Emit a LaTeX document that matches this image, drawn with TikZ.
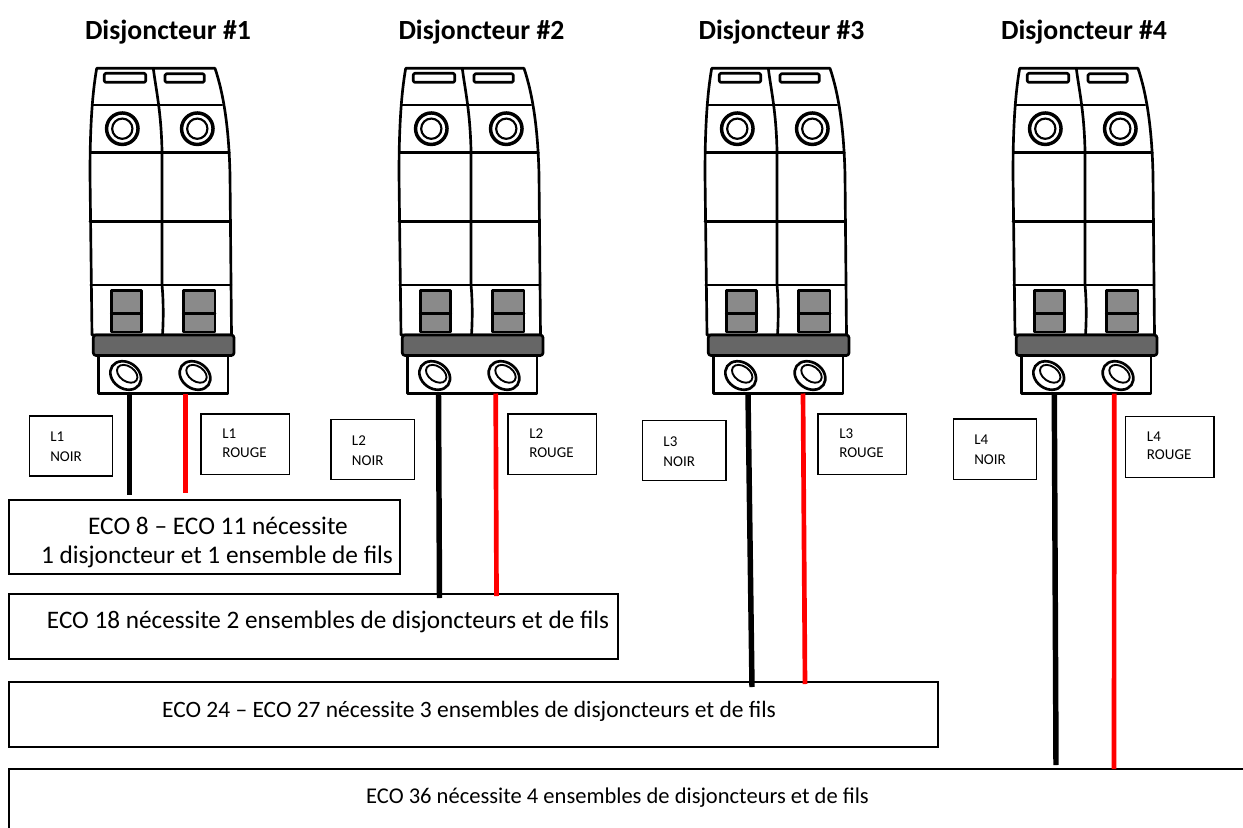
\documentclass[tikz,border=0pt]{standalone}
\usepackage{fontspec}
\setmainfont{Carlito}
\usetikzlibrary{fit}
\definecolor{swgray}{HTML}{8A8A8A}
\definecolor{bandgray}{HTML}{666666}
\newcommand\drawbreaker[1]{%
\begin{scope}[shift={(#1,0)}]
  % body
  \draw[bl, fill=white] (96.7,68.3) -- (215,68.3) .. controls (224,95) and (229,130) .. (230,175) -- (231.5,335) -- (92,335) -- (90,175) .. controls (90,130) and (92,95) .. (96.7,68.3);
  % middle divider
  \draw[bl] (153.3,68.3) .. controls (156,90) and (161,110) .. (162,150) -- (162,285) .. controls (163.5,300) and (163.5,320) .. (162.5,335);
  % horizontal lines
  \draw[bl] (92.6,105) -- (222,105);
  \draw[bl] (90.5,152.5) -- (229.4,152.5);
  \draw[bl] (90,221.7) -- (230.5,221.7);
  \draw[bl] (90.7,285) -- (231,285);
  % slots
  \draw[bl, rounded corners=1pt] (104.3,73.3) rectangle (145.7,82.3);
  \draw[bl, rounded corners=1pt] (165,73.8) rectangle (204.3,82.3);
  % rings
  \draw[line width=2.6pt] (122.3,128.7) circle (11.8pt);
  \draw[line width=1.6pt] (122.3,128.7) circle (7.6pt);
  \draw[line width=2.6pt] (197.3,128.7) circle (11.8pt);
  \draw[line width=1.6pt] (197.3,128.7) circle (7.6pt);
  % switches
  \draw[bl, fill=swgray] (111.3,290.5) rectangle (141.7,332);
  \draw[bl] (111.3,313.3) -- (141.7,313.3);
  \draw[bl, fill=swgray] (183.3,290.5) rectangle (215,332);
  \draw[bl] (183.3,313.3) -- (215,313.3);
  % dark band
  \draw[bl, fill=bandgray, rounded corners=2pt] (93.3,335) rectangle (234,355.5);
  % terminal block
  \draw[bl, fill=white] (98.3,355.5) rectangle (228,393.5);
  % screws
  \draw[line width=2pt, rotate around={-35:(125.7,375.5)}] (125.7,375.5) ellipse [x radius=12.3pt, y radius=9.8pt];
  \draw[line width=1.4pt, rotate around={-35:(127.2,373.8)}] (127.2,373.8) ellipse [x radius=8.5pt, y radius=5.6pt];
  \draw[line width=2pt, rotate around={-35:(195,375.5)}] (195,375.5) ellipse [x radius=12.3pt, y radius=9.8pt];
  \draw[line width=1.4pt, rotate around={-35:(196.5,373.8)}] (196.5,373.8) ellipse [x radius=8.5pt, y radius=5.6pt];
\end{scope}}
\begin{document}
\begin{tikzpicture}[x=0.75pt,y=-0.75pt,
  ttl/.style={font=\fontsize{20.8}{24}\selectfont\bfseries, inner sep=0, anchor=base},
  bx/.style={draw=black, line width=1.5pt, inner sep=0, fill=white},
  boxtxt/.style={inner sep=0, anchor=base},
  lblbox/.style={draw=black, line width=1.1pt, inner sep=0},
  noirtxt/.style={font=\fontsize{11.25}{15}\selectfont, inner sep=0, align=left, anchor=west},
  rougetxt/.style={font=\fontsize{11.25}{13.7}\selectfont, inner sep=0, align=left, anchor=west},
  wk/.style={line width=4.1pt, black},
  wr/.style={line width=3.5pt, red},
  bl/.style={line width=2pt, black, line join=round, line cap=round},
]
\useasboundingbox (0,0) rectangle (1243,828);
\fill[white] (0,0) rectangle (1243,828);

% titles
\node[ttl] (h1) at (168,39.3) {Disjoncteur \#1};
\node[ttl] (h2) at (481.5,39.3) {Disjoncteur \#2};
\node[ttl] (h3) at (781.5,39.3) {Disjoncteur \#3};
\node[ttl] (h4) at (1084,39.3) {Disjoncteur \#4};

% breakers
\drawbreaker{0}
\drawbreaker{309}
\drawbreaker{615}
\drawbreaker{923}

% wire ends
\coordinate (k1a) at (129.3,393.5); \coordinate (k1b) at (129.3,495);
\coordinate (r1a) at (185.7,393.5); \coordinate (r1b) at (185.7,492.7);
\coordinate (k2a) at (438.5,393.5); \coordinate (k2b) at (439.5,598);
\coordinate (r2a) at (495.7,393.5); \coordinate (r2b) at (496.5,596);
\coordinate (k3a) at (748,393.5);   \coordinate (k3b) at (752,687);
\coordinate (r3a) at (803,393.5);   \coordinate (r3b) at (805,684);
\coordinate (k4a) at (1054.3,393.5); \coordinate (k4b) at (1056,765);
\coordinate (r4a) at (1114.3,393.5); \coordinate (r4b) at (1114,769);

% boxes
\node[bx, fit={(9.3,500) (400,574)}] (box1) {};
\node[bx, fit={(9.3,594) (617.7,659)}] (box2) {};
\node[bx, fit={(9.3,682) (937.7,747)}] (box3) {};
\draw[line width=1.5pt] (1243,768.7) -- (9.3,768.7) -- (9.3,828);
\coordinate (box4) at (9.3,768.7);

% wires
\draw[wk] (k1a) -- (k1b);
\draw[wr] (r1a) -- (r1b);
\draw[wk] (k2a) -- (k2b);
\draw[wr] (r2a) -- (r2b);
\draw[wk] (k3a) -- (k3b);
\draw[wr] (r3a) -- (r3b);
\draw[wk] (k4a) -- (k4b);
\draw[wr] (r4a) -- (r4b);

% box texts
\node[boxtxt, font=\fontsize{19}{21}\selectfont] (t1a) at (218,534.4) {ECO 8 – ECO 11 nécessite};
\node[boxtxt, font=\fontsize{19}{21}\selectfont] (t1b) at (217,563.3) {1 disjoncteur et 1 ensemble de fils};
\node[boxtxt, font=\fontsize{18.9}{21}\selectfont] (t2) at (328,628) {ECO 18 nécessite 2 ensembles de disjoncteurs et de fils};
\node[boxtxt, font=\fontsize{17.6}{21}\selectfont] (t3) at (469,717.3) {ECO 24 – ECO 27 nécessite 3 ensembles de disjoncteurs et de fils};
\node[boxtxt, font=\fontsize{16.9}{21}\selectfont] (t4) at (617.5,803) {ECO 36 nécessite 4 ensembles de disjoncteurs et de fils};

% label boxes
\node[lblbox, fit={(29.3,416) (112.7,476)}] (n1) {};
\node[noirtxt] (n1t) at (50,446.8) {L1\\NOIR};
\node[lblbox, fit={(201,414) (289.5,474.3)}] (g1) {};
\node[rougetxt] (g1t) at (222,443.1) {L1\\ROUGE};

\node[lblbox, fit={(331,419.5) (414.4,479.5)}] (n2) {};
\node[noirtxt] (n2t) at (351.7,450.3) {L2\\NOIR};
\node[lblbox, fit={(508,414) (596.5,474.3)}] (g2) {};
\node[rougetxt] (g2t) at (529,443.1) {L2\\ROUGE};

\node[lblbox, fit={(642.5,420.5) (725.9,480.5)}] (n3) {};
\node[noirtxt] (n3t) at (663.2,451.3) {L3\\NOIR};
\node[lblbox, fit={(818,414) (906.5,474.3)}] (g3) {};
\node[rougetxt] (g3t) at (839,443.1) {L3\\ROUGE};

\node[lblbox, fit={(953.3,419) (1036.7,479.3)}] (n4) {};
\node[noirtxt] (n4t) at (974,450) {L4\\NOIR};
\node[lblbox, fit={(1125.7,416.7) (1214,477.3)}] (g4) {};
\node[rougetxt] (g4t) at (1146.7,446) {L4\\ROUGE};
\end{tikzpicture}
\end{document}
